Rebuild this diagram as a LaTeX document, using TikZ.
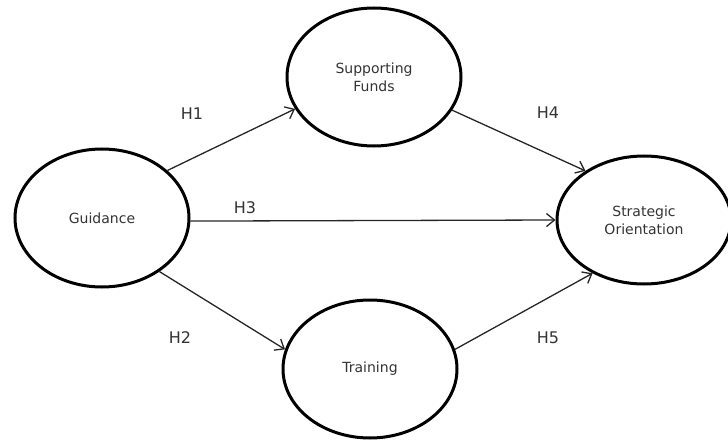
\documentclass[tikz,border=0pt]{standalone}
\usepackage{fontspec}
\setmainfont{DejaVu Sans}
\usetikzlibrary{shapes.geometric,arrows.meta}
\begin{document}
\begin{tikzpicture}[x=1pt,y=-1pt,
  var/.style={ellipse,draw,line width=3pt,minimum width=174pt,minimum height=138pt,inner sep=0pt,align=center,text=black!80,font=\fontsize{14}{18}\selectfont},
  link/.style={line width=1.3pt,draw=black!85,-{Straight Barb[length=8pt,width=13pt,line width=1.3pt]}},
  hyp/.style={text=black!80,font=\fontsize{16}{19}\selectfont}]
\useasboundingbox (0,0) rectangle (728,441);
\node[var] (g) at (102,218) {Guidance};
\node[var] (sf) at (374,77) {Supporting\\Funds};
\node[var] (tr) at (370,369) {Training};
\node[var,minimum height=128pt] (so) at (644,220) {Strategic\\Orientation};
\draw[link] (g.36) -- (sf.202);
\draw[link] (g.-43) -- (tr.167);
\draw[link] (g.-2) -- (so.west);
\draw[link] (sf.-23) -- (so.140);
\draw[link] (tr.13) -- (so.226);
\node[hyp] (h1) at (192,114) {H1};
\node[hyp] (h2) at (180,338) {H2};
\node[hyp] (h3) at (245,208) {H3};
\node[hyp] (h4) at (548,113) {H4};
\node[hyp] (h5) at (548,338) {H5};
\end{tikzpicture}
\end{document}
